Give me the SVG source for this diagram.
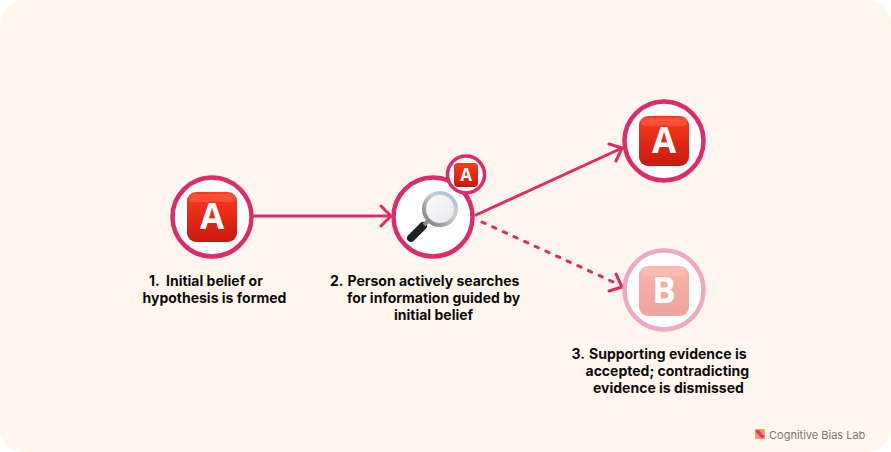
<svg xmlns="http://www.w3.org/2000/svg" width="891" height="452" viewBox="0 0 891 452">
<style>
.lbl{font-family:Inter,"Liberation Sans",sans-serif;font-size:14px;font-weight:650;fill:#0d0d0d}
.ring{fill:#fff;stroke:#de2b69;stroke-width:4.500}
.conn{fill:none;stroke:#de2b69;stroke-width:3;stroke-linecap:round;stroke-linejoin:round}
.em{font-family:"Open Sans","Liberation Sans",sans-serif;font-weight:700;fill:#fff;text-anchor:middle}
.shine{fill:#fff;opacity:.12}
</style>
<defs>
<linearGradient id="red" x1="0" y1="0" x2="0" y2="1"><stop offset="0" stop-color="#ff3a1e"/><stop offset="1" stop-color="#c8190e"/></linearGradient>
<linearGradient id="pink" x1="0" y1="0" x2="0" y2="1"><stop offset="0" stop-color="#ffb3a8"/><stop offset="1" stop-color="#eba49c"/></linearGradient>
<linearGradient id="lens" x1="0" y1="0" x2="1" y2="1"><stop offset="0" stop-color="#fbfbfb"/><stop offset="1" stop-color="#e6e8ec"/></linearGradient>
<linearGradient id="rim" x1="0" y1="1" x2="1" y2="0"><stop offset="0" stop-color="#77777a"/><stop offset=".6" stop-color="#cfcfcf"/><stop offset="1" stop-color="#9fc0e6"/></linearGradient>
</defs>
<rect width="891" height="452" fill="#fff"/>
<rect width="891" height="452" rx="24" fill="#fff6ed"/>
<g id="connectors">
<path class="conn" d="M254 216H390M381 206L391 216L381 226"/>
<path class="conn" d="M476 215L622 148M609 144L622 148L616 161"/>
<path class="conn" stroke-dasharray="3.500 8.200" d="M482 222L620 285"/>
<path class="conn" d="M609 291L622 287L616 274"/>
</g>
<g id="node-1">
<circle class="ring" cx="212" cy="217" r="39.500"/>
<rect x="187" y="192" width="50" height="50" rx="9" fill="url(#red)"/>
<rect class="shine" x="189" y="194" width="46" height="8" rx="4"/>
<text class="em" x="212" y="229" font-size="35">A</text>
</g>
<g id="node-2">
<circle class="ring" cx="433" cy="217" r="39.500"/>
<path d="M411 238L423 226" stroke="#1c1f24" stroke-width="8" stroke-linecap="round"/>
<path d="M424 225L428 221" stroke="#8a8a8a" stroke-width="4"/>
<circle cx="440" cy="209" r="16" fill="url(#lens)" stroke="url(#rim)" stroke-width="4"/>
</g>
<g id="node-2-badge">
<circle cx="466" cy="174.500" r="18.500" fill="#fff" stroke="#de2b69" stroke-width="3.500"/>
<rect x="454" y="163" width="24" height="24" rx="4" fill="url(#red)"/>
<text class="em" x="466" y="180.500" font-size="17">A</text>
</g>
<g id="node-3">
<circle class="ring" cx="664" cy="141" r="39.500"/>
<rect x="639" y="116" width="50" height="50" rx="9" fill="url(#red)"/>
<rect class="shine" x="641" y="118" width="46" height="8" rx="4"/>
<text class="em" x="664" y="153" font-size="35">A</text>
</g>
<g id="node-4">
<circle cx="664" cy="290" r="39.500" fill="#fff" stroke="#f0a9c3" stroke-width="4.500"/>
<rect x="639" y="266" width="50" height="50" rx="9" fill="url(#pink)"/>
<rect class="shine" x="641" y="268" width="46" height="8" rx="4"/>
<text class="em" x="664" y="303" font-size="35">B</text>
</g>
<g id="labels">
<text class="lbl" x="149" y="286">1.</text>
<text class="lbl" x="166" y="286">Initial belief or</text>
<text class="lbl" x="142.500" y="303">hypothesis is formed</text>
<text class="lbl" x="330" y="286">2.</text>
<text class="lbl" x="347.500" y="286">Person actively searches</text>
<text class="lbl" x="347" y="303">for information guided by</text>
<text class="lbl" x="394" y="320">initial belief</text>
<text class="lbl" x="571.500" y="359">3.</text>
<text class="lbl" x="589" y="359">Supporting evidence is</text>
<text class="lbl" x="585.500" y="376">accepted; contradicting</text>
<text class="lbl" x="593" y="393">evidence is dismissed</text>
</g>
<g id="logo">
<rect x="755" y="429" width="10" height="10" rx="1" fill="#f7a35c"/>
<path d="M756.500 430.500L763.500 437.500" stroke="#e8366f" stroke-width="3.500"/>
<text x="769" y="439" font-family="Inter,'Liberation Sans',sans-serif" font-size="11" fill="#7d7573">Cognitive Bias Lab</text>
</g>
</svg>
